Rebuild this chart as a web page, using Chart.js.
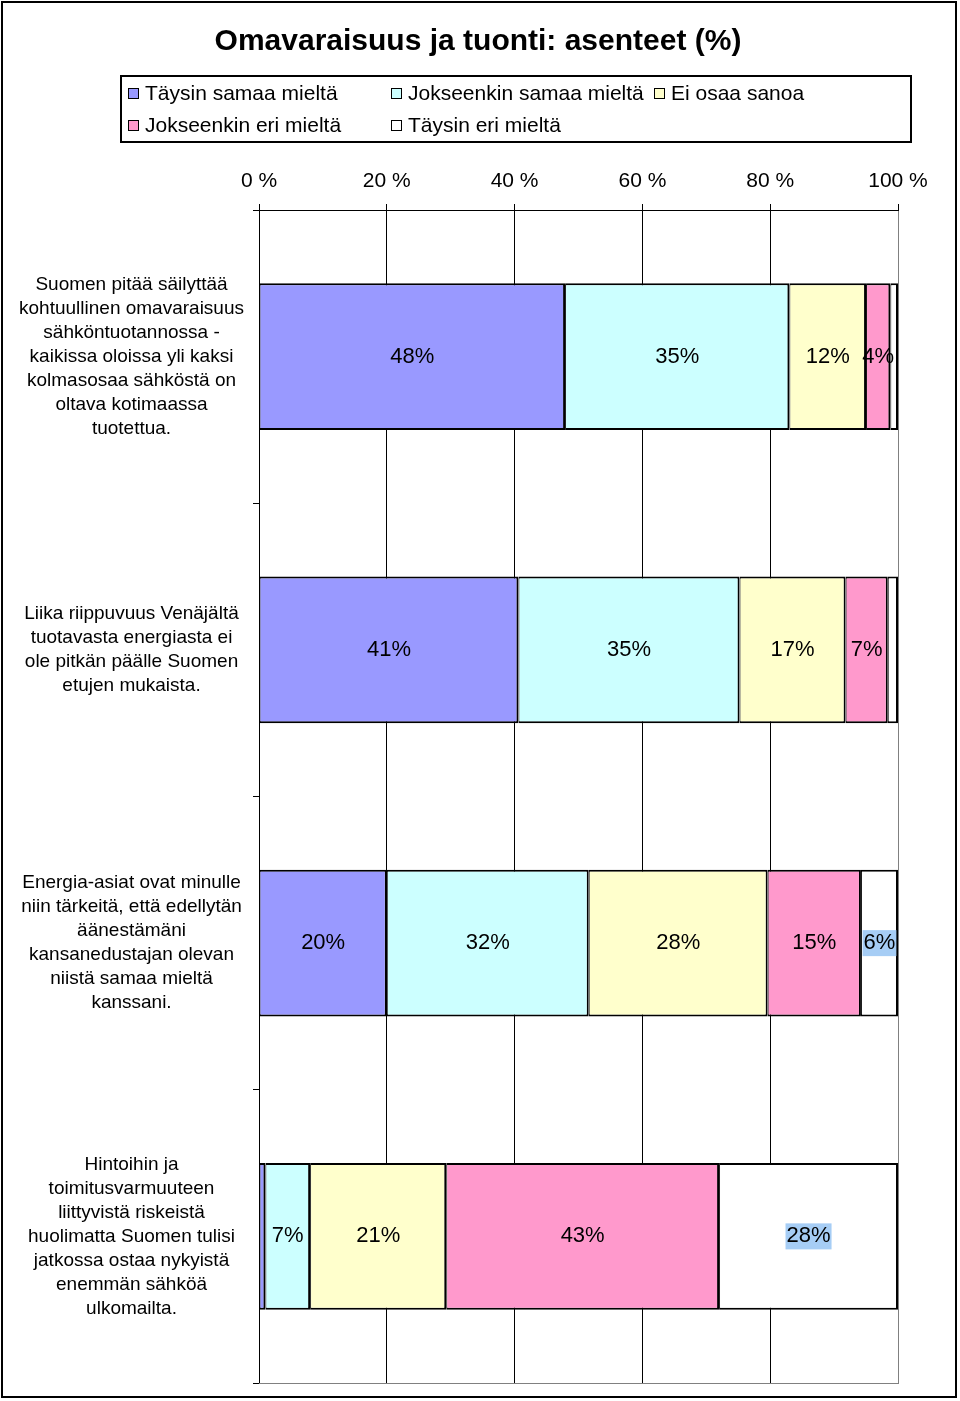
<!DOCTYPE html>
<html>
<head>
<meta charset="utf-8">
<title>Omavaraisuus ja tuonti: asenteet (%)</title>
<script src="https://cdn.jsdelivr.net/npm/chart.js@4.4.1/dist/chart.umd.min.js"></script>
<style>
  html, body { margin: 0; padding: 0; background: #fff; }
</style>
</head>
<body>
<canvas id="attitude-chart" width="960" height="1401"></canvas>
<script>
const FONT = "'Liberation Sans', Arial, sans-serif";

const chartTitle = 'Omavaraisuus ja tuonti: asenteet (%)';

const categories = [
  ['Suomen pitää säilyttää', 'kohtuullinen omavaraisuus', 'sähköntuotannossa -',
   'kaikissa oloissa yli kaksi', 'kolmasosaa sähköstä on', 'oltava kotimaassa', 'tuotettua.'],
  ['Liika riippuvuus Venäjältä', 'tuotavasta energiasta ei', 'ole pitkän päälle Suomen',
   'etujen mukaista.'],
  ['Energia-asiat ovat minulle', 'niin tärkeitä, että edellytän', 'äänestämäni',
   'kansanedustajan olevan', 'niistä samaa mieltä', 'kanssani.'],
  ['Hintoihin ja', 'toimitusvarmuuteen', 'liittyvistä riskeistä', 'huolimatta Suomen tulisi',
   'jatkossa ostaa nykyistä', 'enemmän sähköä', 'ulkomailta.'],
];

const seriesNames = [
  'Täysin samaa mieltä',
  'Jokseenkin samaa mieltä',
  'Ei osaa sanoa',
  'Jokseenkin eri mieltä',
  'Täysin eri mieltä',
];

// shares in %
const fullyAgree     = [47.9, 40.6, 20.0, 1.0];
const somewhatAgree  = [35.1, 34.6, 31.6, 7.0];
const cannotSay      = [12.0, 16.6, 28.0, 21.3];
const somewhatDisagr = [3.8, 6.6, 14.6, 42.7];
const fullyDisagree  = [1.2, 1.6, 5.8, 28.0];

const xTicks = [0, 20, 40, 60, 80, 100];

const seriesColors = ['#9999FF', '#CCFFFF', '#FFFFCC', '#FF99CC', '#FFFFFF'];

const seriesValues = [fullyAgree, somewhatAgree, cannotSay, somewhatDisagr, fullyDisagree];

const datasets = seriesNames.map((name, i) => ({
  label: name,
  data: seriesValues[i],
  backgroundColor: seriesColors[i],
  borderColor: '#000',
  borderWidth: { top: 2, bottom: 2, left: 1, right: 2 },
  borderSkipped: false,
  barPercentage: 0.5,
  categoryPercentage: 1,
  labelBackground: i === 4 ? '#A6CDF5' : null,
}));

// frame, title, legend and plot border
const frameAndLegend = {
  id: 'frameAndLegend',
  beforeDraw(chart) {
    const ctx = chart.ctx;
    ctx.save();
    ctx.fillStyle = '#fff';
    ctx.fillRect(0, 0, chart.width, chart.height);
    ctx.restore();
  },
  afterDraw(chart) {
    const ctx = chart.ctx;
    const a = chart.chartArea;
    ctx.save();

    ctx.strokeStyle = '#808080';
    ctx.lineWidth = 1;
    ctx.beginPath();
    ctx.moveTo(a.left, a.bottom + 0.5);
    ctx.lineTo(a.right + 1, a.bottom + 0.5);
    ctx.stroke();

    ctx.strokeStyle = '#000';
    ctx.lineWidth = 2;
    ctx.strokeRect(2, 2, 954, 1395);

    ctx.fillStyle = '#000';
    ctx.font = `bold 30px ${FONT}`;
    ctx.textAlign = 'center';
    ctx.textBaseline = 'middle';
    ctx.fillText(chartTitle, 478, 42);

    ctx.lineWidth = 2;
    ctx.strokeRect(121, 76, 790, 66);

    ctx.font = `21px ${FONT}`;
    ctx.textAlign = 'left';
    chart.data.datasets.forEach((ds, i) => {
      const x = 128 + (i % 3) * 263;
      const y = 93 + Math.floor(i / 3) * 32;
      ctx.fillStyle = ds.backgroundColor;
      ctx.fillRect(x, y - 5, 10, 10);
      ctx.lineWidth = 1;
      ctx.strokeStyle = '#000';
      ctx.strokeRect(x + 0.5, y - 4.5, 10, 10);
      ctx.fillStyle = '#000';
      ctx.fillText(ds.label, x + 17, y + 1);
    });
    ctx.restore();
  },
};

// value labels inside the segments
const segmentLabels = {
  id: 'segmentLabels',
  afterDatasetsDraw(chart) {
    const ctx = chart.ctx;
    ctx.save();
    ctx.font = `22px ${FONT}`;
    ctx.textAlign = 'center';
    ctx.textBaseline = 'middle';
    chart.data.datasets.forEach((ds, di) => {
      const meta = chart.getDatasetMeta(di);
      meta.data.forEach((bar, i) => {
        const v = ds.data[i];
        if (v < 2) return;
        const { x, y, base } = bar.getProps(['x', 'y', 'base'], true);
        const cx = (x + base) / 2;
        const text = Math.round(v) + '%';
        if (ds.labelBackground) {
          const w = ctx.measureText(text).width;
          ctx.fillStyle = ds.labelBackground;
          ctx.fillRect(cx - w / 2 - 1, y - 13, w + 2, 26);
        }
        ctx.fillStyle = '#000';
        ctx.fillText(text, cx, y);
      });
    });
    ctx.restore();
  },
};

new Chart(document.getElementById('attitude-chart'), {
  type: 'bar',
  data: {
    labels: categories,
    datasets: datasets,
  },
  options: {
    indexAxis: 'y',
    responsive: false,
    animation: false,
    layout: { padding: { top: 165, left: 17, right: 62, bottom: 18 } },
    plugins: {
      legend: { display: false },
      title: { display: false },
      tooltip: { enabled: true },
    },
    scales: {
      x: {
        position: 'top',
        stacked: true,
        min: 0,
        max: 100,
        afterBuildTicks: (s) => { s.ticks = xTicks.map((v) => ({ value: v })); },
        afterFit: (s) => { s.height = 45; },
        ticks: {
          padding: 10,
          color: '#000',
          font: { family: FONT, size: 21 },
          callback: (v) => v + ' %',
        },
        grid: {
          color: (c) => (c.tick && c.tick.value === 100 ? '#808080' : '#000'),
          tickColor: '#000',
          tickLength: 6,
          lineWidth: 1,
        },
        border: { color: '#000', width: 1 },
      },
      y: {
        stacked: true,
        offset: true,
        afterFit: (s) => {
          s.width = 242;
          s.paddingTop = 0;
          s.paddingBottom = 0;
        },
        ticks: {
          crossAlign: 'center',
          padding: 9,
          autoSkip: false,
          color: '#000',
          font: { family: FONT, size: 19, lineHeight: 24 / 19 },
        },
        grid: {
          offset: true,
          drawOnChartArea: false,
          tickLength: 6,
          color: '#000',
        },
        border: { color: '#000', width: 1 },
      },
    },
  },
  plugins: [frameAndLegend, segmentLabels],
});
</script>
</body>
</html>
